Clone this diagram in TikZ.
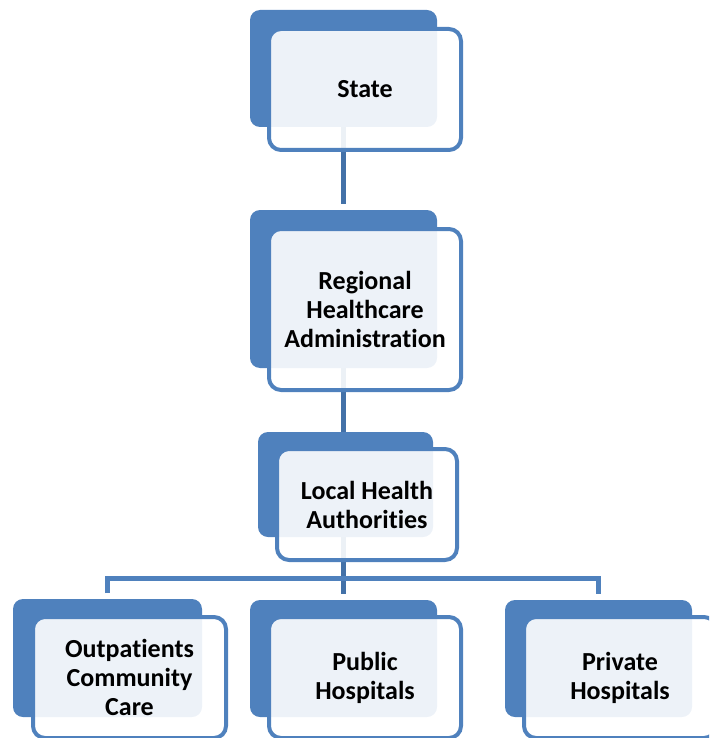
\documentclass[tikz,border=0pt]{standalone}
\usepackage{fontspec}
\setmainfont[Ligatures={NoCommon}]{Carlito}
\definecolor{boxblue}{HTML}{4F81BD}
\definecolor{linkblue}{HTML}{4371A8}
\begin{document}
\begin{tikzpicture}[x=1pt,y=-1pt,
  backbox/.style={fill=boxblue, rounded corners=10pt, inner sep=0pt, outer sep=0pt},
  frontbox/.style={draw=boxblue, line width=4pt, fill=white, fill opacity=0.9, text opacity=1,
    rounded corners=12pt, inner sep=0pt, outer sep=0pt, align=center, text=black,
    font=\bfseries\fontsize{26}{29}\selectfont},
  anchorbox/.style={inner sep=0pt, outer sep=0pt},
  link/.style={draw=linkblue, line width=5pt},
  buslink/.style={draw=boxblue, line width=4.5pt}]
\useasboundingbox (0,0) rectangle (709,738);
\clip (0,0) rectangle (709,738);
\coordinate (bus) at (343.5,578.5);
\path (343.5,68.5) node[anchorbox, minimum width=187pt, minimum height=117pt] (stateB) {};
\path (343.5,289) node[anchorbox, minimum width=187pt, minimum height=158pt] (regB) {};
\path (345.5,484.5) node[anchorbox, minimum width=175pt, minimum height=105pt] (locB) {};
\path (107.5,658) node[anchorbox, minimum width=189pt, minimum height=118pt] (outB) {};
\path (343.5,658.5) node[anchorbox, minimum width=187pt, minimum height=117pt] (pubB) {};
\path (598.5,658.5) node[anchorbox, minimum width=187pt, minimum height=117pt] (privB) {};
% connectors
\draw[link, shorten >=6pt] (stateB.south) -- (regB.north);
\draw[link] (regB.south) -- (regB.south |- locB.north);
\draw[link, shorten >=6pt] (locB.south -| bus) -- (pubB.north);
\draw[buslink, shorten <=6pt, shorten >=6pt] (outB.north) |- (bus) -| (privB.north);
% State
\fill[backbox] (stateB.south west) rectangle (stateB.north east);
\node[frontbox, minimum width=192pt, minimum height=121pt] (state) at (365,89.5) {State};
% Regional
\fill[backbox] (regB.south west) rectangle (regB.north east);
\node[frontbox, minimum width=192pt, minimum height=161pt] (reg) at (365,309.5) {Regional\\Healthcare\\Administration};
% Local
\fill[backbox] (locB.south west) rectangle (locB.north east);
\node[frontbox, minimum width=180pt, minimum height=111pt] (loc) at (367,504.5) {Local Health\\Authorities};
% Outpatients
\fill[backbox] (outB.south west) rectangle (outB.north east);
\node[frontbox, minimum width=193pt, minimum height=121pt] (out) at (129.5,677.5) {Outpatients\\Community\\Care};
% Public
\fill[backbox] (pubB.south west) rectangle (pubB.north east);
\node[frontbox, minimum width=192pt, minimum height=121pt] (pub) at (365,677.5) {Public\\Hospitals};
% Private
\fill[backbox] (privB.south west) rectangle (privB.north east);
\node[frontbox, minimum width=192pt, minimum height=121pt] (priv) at (620,677.5) {Private\\Hospitals};
\end{tikzpicture}
\end{document}
